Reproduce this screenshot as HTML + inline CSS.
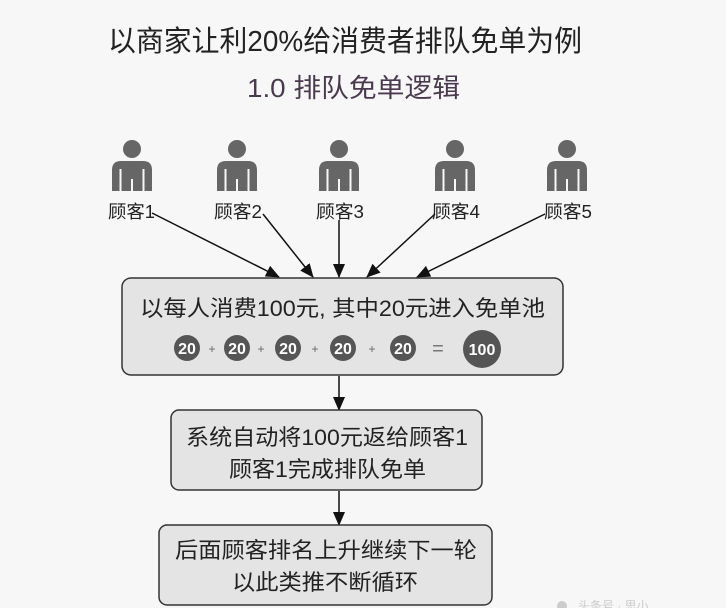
<!DOCTYPE html>
<html><head><meta charset="utf-8"><style>
html,body{margin:0;padding:0;background:#f7f7f7;}
svg{display:block;}
text{font-family:"Liberation Sans","Noto Sans CJK SC",sans-serif;}
</style></head><body>
<svg width="726" height="608" viewBox="0 0 726 608" xmlns="http://www.w3.org/2000/svg">
<defs>
<marker id="ar" markerWidth="14" markerHeight="12" refX="13" refY="6" orient="auto" markerUnits="userSpaceOnUse" viewBox="0 0 14 12">
<path d="M0,0 L14,6 L0,12 z" fill="#111"/>
</marker>
<g id="person">
<circle cx="0" cy="-44" r="9" fill="#666"/>
<path d="M-20,-2 L-20,-23 Q-20,-32 -11,-32 L11,-32 Q20,-32 20,-23 L20,-2 Z" fill="#666"/>
<rect x="-12.5" y="-24" width="2" height="22" fill="#f7f7f7"/>
<rect x="10.5" y="-24" width="2" height="22" fill="#f7f7f7"/>
<rect x="-1" y="-14" width="2" height="12" fill="#f7f7f7"/>
</g>
</defs>
<rect width="726" height="608" fill="#f7f7f7"/>
<text x="108" y="51" font-size="29" fill="#222" textLength="474" lengthAdjust="spacingAndGlyphs">以商家让利20%给消费者排队免单为例</text>
<text x="247" y="97" font-size="26" fill="#4a3a4e" textLength="213" lengthAdjust="spacingAndGlyphs">1.0 排队免单逻辑</text>

<use href="#person" x="132" y="193"/>
<use href="#person" x="237" y="193"/>
<use href="#person" x="339" y="193"/>
<use href="#person" x="455" y="193"/>
<use href="#person" x="567" y="193"/>
<g font-size="18" fill="#222">
<text x="108" y="218" textLength="47" lengthAdjust="spacingAndGlyphs">顾客1</text>
<text x="214" y="218" textLength="48" lengthAdjust="spacingAndGlyphs">顾客2</text>
<text x="316" y="218" textLength="48" lengthAdjust="spacingAndGlyphs">顾客3</text>
<text x="432" y="218" textLength="48" lengthAdjust="spacingAndGlyphs">顾客4</text>
<text x="544" y="218" textLength="48" lengthAdjust="spacingAndGlyphs">顾客5</text>
</g>
<g stroke="#111" stroke-width="1.5" fill="none" marker-end="url(#ar)">
<line x1="152" y1="213" x2="279" y2="277"/>
<line x1="263" y1="214" x2="313" y2="277"/>
<line x1="339" y1="220" x2="339" y2="277"/>
<line x1="435" y1="214" x2="367" y2="277"/>
<line x1="545" y1="214" x2="417" y2="277"/>
<line x1="339" y1="376" x2="339" y2="410"/>
<line x1="339" y1="491" x2="339" y2="525"/>
</g>

<rect x="122" y="278" width="441" height="97" rx="9" fill="#e4e4e4" stroke="#333" stroke-width="1.5"/>
<text x="140" y="316" font-size="22" fill="#222" textLength="405" lengthAdjust="spacingAndGlyphs">以每人消费100元, 其中20元进入免单池</text>
<g fill="#555">
<circle cx="187" cy="348" r="13"/><circle cx="237" cy="348" r="13"/><circle cx="288" cy="348" r="13"/><circle cx="343" cy="348" r="13"/><circle cx="403" cy="348" r="13"/><circle cx="482" cy="349" r="19"/>
</g>
<g font-size="16" font-weight="bold" fill="#fff" text-anchor="middle">
<text x="187" y="354">20</text><text x="237" y="354">20</text><text x="288" y="354">20</text><text x="343" y="354">20</text><text x="403" y="354">20</text><text x="482" y="355" font-size="16">100</text>
</g>
<g font-size="12" fill="#666" text-anchor="middle">
<text x="212" y="353">+</text><text x="261" y="353">+</text><text x="315" y="353">+</text><text x="372" y="353">+</text>
</g>
<text x="438" y="355" font-size="20" fill="#777" text-anchor="middle">=</text>

<rect x="171" y="410" width="311" height="80" rx="8" fill="#e4e4e4" stroke="#333" stroke-width="1.5"/>
<text x="186" y="445" font-size="22" fill="#222" textLength="282" lengthAdjust="spacingAndGlyphs">系统自动将100元返给顾客1</text>
<text x="229" y="477" font-size="22" fill="#222" textLength="197" lengthAdjust="spacingAndGlyphs">顾客1完成排队免单</text>

<rect x="159" y="525" width="333" height="80" rx="8" fill="#e4e4e4" stroke="#333" stroke-width="1.5"/>
<text x="175" y="558" font-size="22" fill="#222" textLength="302" lengthAdjust="spacingAndGlyphs">后面顾客排名上升继续下一轮</text>
<text x="232" y="590" font-size="22" fill="#222" textLength="186" lengthAdjust="spacingAndGlyphs">以此类推不断循环</text>

<circle cx="562" cy="606" r="5" fill="#ccc"/>
<text x="578" y="610" font-size="12" fill="#ccc">头条号 · 思小</text>
</svg>
</body></html>
